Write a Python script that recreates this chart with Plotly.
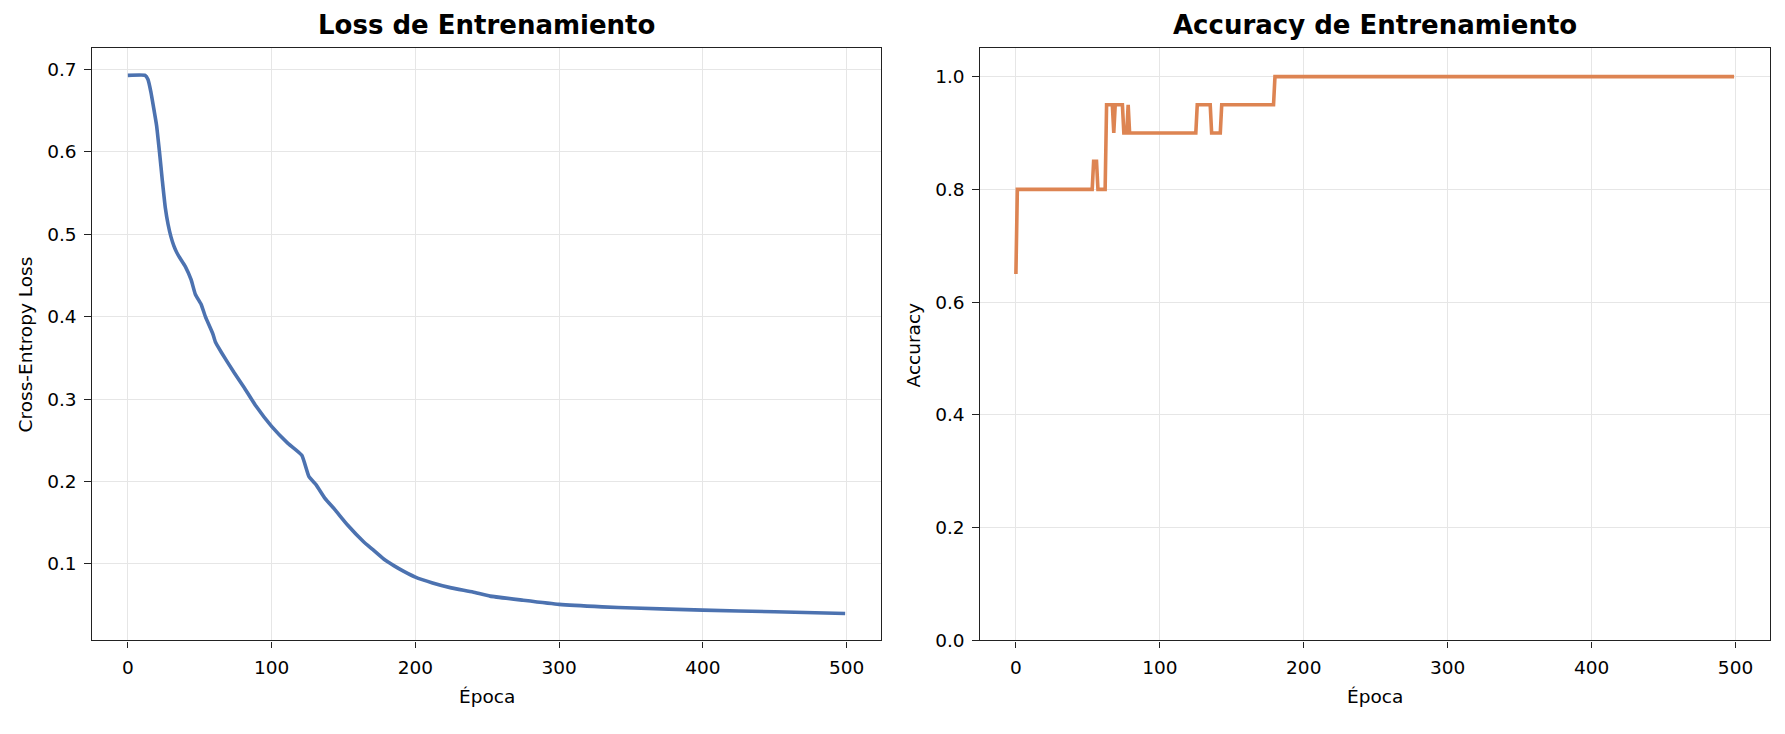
import plotly.graph_objects as go

# ---------------- data ----------------
loss_epochs = [0, 12, 14, 16, 18, 20, 22, 24, 26, 28, 30, 32, 34, 36, 40, 44, 47, 51, 54,
               59, 61, 65, 74, 81, 89, 100, 111, 121, 126, 131, 137, 144, 153, 164, 170,
               178, 185, 192, 200, 212, 225, 240, 252, 275, 300, 330, 352, 400, 450, 499]
loss_values = [0.693, 0.693, 0.688, 0.673, 0.653, 0.632, 0.600, 0.565, 0.533, 0.512, 0.497,
               0.486, 0.478, 0.472, 0.461, 0.445, 0.427, 0.415, 0.400, 0.380, 0.369, 0.357,
               0.332, 0.314, 0.292, 0.267, 0.247, 0.232, 0.206, 0.196, 0.180, 0.166, 0.147,
               0.127, 0.118, 0.106, 0.098, 0.091, 0.084, 0.077, 0.071, 0.066, 0.061, 0.056,
               0.051, 0.048, 0.0465, 0.0440, 0.042, 0.040]

acc_epochs = [0, 1, 53, 54, 56, 57, 62, 63, 67, 68, 69, 74, 75, 77, 78, 79,
              125, 126, 135, 136, 142, 143, 179, 180, 499]
acc_values = [0.65, 0.80, 0.80, 0.85, 0.85, 0.80, 0.80, 0.95, 0.95, 0.90, 0.95, 0.95,
              0.90, 0.90, 0.95, 0.90, 0.90, 0.95, 0.95, 0.90, 0.90, 0.95, 0.95, 1.00, 1.00]

x_ticks = [0, 100, 200, 300, 400, 500]
loss_ticks = [0.1, 0.2, 0.3, 0.4, 0.5, 0.6, 0.7]
acc_ticks = [0.0, 0.2, 0.4, 0.6, 0.8, 1.0]

titles = ["Loss de Entrenamiento", "Accuracy de Entrenamiento"]
x_label = "Época"
y_labels = ["Cross-Entropy Loss", "Accuracy"]

# ---------------- layout geometry ----------------
# The page body has an 8px margin, so the figure is 16px smaller than the
# window and reference pixel positions are shifted by 8px.
OFF = 8
W, H = 1785 - 2 * OFF, 734 - 2 * OFF
FONT = "DejaVu Sans"
SPINE = "#222222"


def px_x(p):
    return (p - OFF) / W


def px_y(p):
    return 1 - (p - OFF) / H


left_dom = [px_x(92), px_x(881)]
right_dom = [px_x(980), px_x(1770)]
y_dom = [px_y(649.3), px_y(49)]

fig = go.Figure()
fig.add_trace(go.Scatter(x=loss_epochs, y=loss_values, mode="lines",
                         line=dict(color="#4C72B0", width=3.6, shape="spline", smoothing=0.4),
                         xaxis="x", yaxis="y", showlegend=False))
fig.add_trace(go.Scatter(x=acc_epochs, y=acc_values, mode="lines",
                         line=dict(color="#DD8452", width=3.6),
                         xaxis="x2", yaxis="y2", showlegend=False))

axis_common = dict(
    showline=True, linecolor=SPINE, linewidth=1.3, mirror=True,
    showgrid=True, gridcolor="#e6e6e6", gridwidth=1.2,
    ticks="outside", ticklen=6.5, tickwidth=1.3, tickcolor=SPINE,
    tickfont=dict(family=FONT, size=18.5, color="#000000"),
    zeroline=False, ticklabelstandoff=4,
)

fig.update_layout(
    width=W, height=H,
    margin=dict(l=0, r=0, t=0, b=0),
    paper_bgcolor="white", plot_bgcolor="white",
    xaxis=dict(domain=left_dom, anchor="y", range=[-24.95, 523.95],
               tickvals=x_ticks, **axis_common),
    yaxis=dict(domain=y_dom, anchor="x", range=[0.0073, 0.7257],
               tickvals=loss_ticks, tickformat=".1f", **axis_common),
    xaxis2=dict(domain=right_dom, anchor="y2", range=[-24.95, 523.95],
                tickvals=x_ticks, **axis_common),
    yaxis2=dict(domain=y_dom, anchor="x2", range=[0, 1.05],
                tickvals=acc_ticks, tickformat=".1f", **axis_common),
)

annotations = []
centers = [(92 + 881) / 2, (980 + 1770) / 2]
ylab_x = [25, 913]
for i in range(2):
    annotations.append(dict(
        text="<b>" + titles[i] + "</b>", x=px_x(centers[i]), y=px_y(25),
        xref="paper", yref="paper", xanchor="center", yanchor="middle",
        showarrow=False, font=dict(family=FONT, size=26, color="#000000")))
    annotations.append(dict(
        text=x_label, x=px_x(centers[i]), y=px_y(706),
        xref="paper", yref="paper", xanchor="center", yanchor="middle",
        showarrow=False, font=dict(family=FONT, size=18.5, color="#000000")))
    annotations.append(dict(
        text=y_labels[i], x=px_x(ylab_x[i]), y=px_y((49 + 649.3) / 2),
        xref="paper", yref="paper", xanchor="center", yanchor="middle",
        textangle=-90, showarrow=False,
        font=dict(family=FONT, size=18.5, color="#000000")))
fig.update_layout(annotations=annotations)

fig.write_html("out.html")
